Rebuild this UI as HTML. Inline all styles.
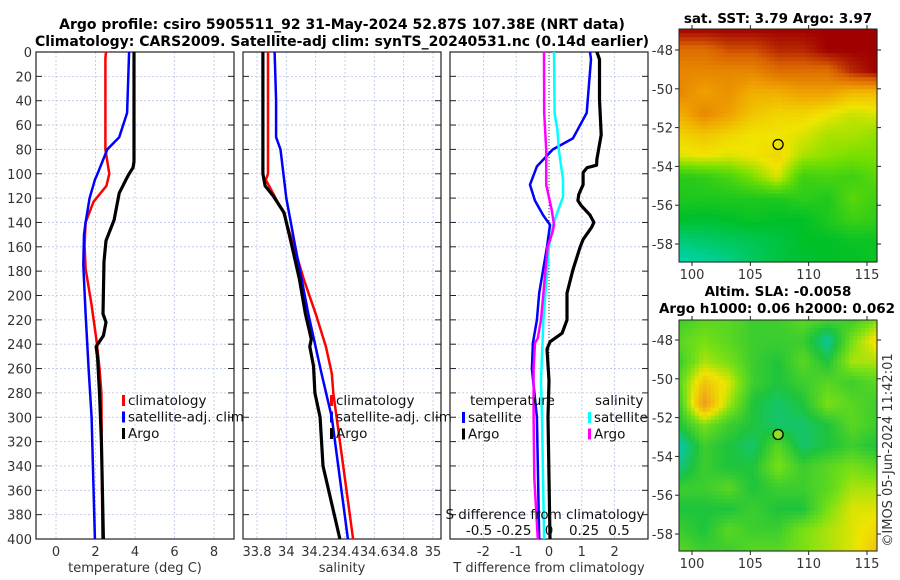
<!DOCTYPE html>
<html><head><meta charset="utf-8"><style>
html,body{margin:0;padding:0;background:#fff;}
svg{display:block;font-family:"DejaVu Sans","Liberation Sans",sans-serif;}
.tk{font-size:13px;fill:#333;}
.tt{font-size:14px;font-weight:bold;fill:#000;}
.tm{font-size:13.5px;font-weight:bold;fill:#000;}
.lg{font-size:13.5px;fill:#111;}
</style></head><body>
<svg id="fig" width="900" height="580" viewBox="0 0 900 580">
<g id="panels"></g>
<text class="tt" x="342" y="29" text-anchor="middle">Argo profile: csiro 5905511_92 31-May-2024 52.87S 107.38E (NRT data)</text>
<text class="tt" x="342" y="46" text-anchor="middle">Climatology: CARS2009. Satellite-adj clim: synTS_20240531.nc (0.14d earlier)</text>
<text class="tm" x="778" y="23" text-anchor="middle">sat. SST: 3.79 Argo: 3.97</text>
<text class="tm" x="778" y="296" text-anchor="middle">Altim. SLA: -0.0058</text>
<text class="tm" x="777" y="313" text-anchor="middle">Argo h1000: 0.06 h2000: 0.062</text>
<text class="tk" transform="translate(892,450) rotate(-90)" text-anchor="middle">©IMOS 05-Jun-2024 11:42:01</text>
</svg>
<script>
// ---------- data ----------
const depthTicks = [0,20,40,60,80,100,120,140,160,180,200,220,240,260,280,300,320,340,360,380,400];
const tempTicks = [0,2,4,6,8];
const salTicks = [33.8,34,34.2,34.4,34.6,34.8,35];
const salTickLabels = ["33.8","34","34.2","34.4","34.6","34.8","35"];
const tdiffTicks = [-2,-1,0,1,2];
const sdiffTicks = [-0.5,-0.25,0,0.25,0.5];
const sdiffTickLabels = ["-0.5","-0.25","0","0.25","0.5"];

const tClimDepth = [0,5,80,100,110,123,140,159,178,208,238,260,280,400];
const tClimVal   = [2.53,2.5,2.5,2.7,2.55,1.9,1.5,1.45,1.5,1.8,2.06,2.2,2.3,2.35];
const tSatDepth  = [0,50,70,80,100,105,120,140,150,175,215,260,300,400];
const tSatVal    = [3.7,3.6,3.2,2.6,2.1,1.97,1.7,1.5,1.42,1.38,1.5,1.65,1.8,1.97];
const tArgoDepth = [0,90,95,100,105,116,138,155,172,215,222,233,242,250,280,320,400];
const tArgoVal   = [3.95,3.95,3.9,3.7,3.54,3.2,2.94,2.53,2.43,2.38,2.53,2.4,2.03,2.1,2.2,2.3,2.4];

const sClimDepth = [0,100,105,132,159,187,215,242,264,280,400];
const sClimVal   = [33.875,33.875,33.86,33.98,34.05,34.12,34.2,34.27,34.31,34.32,34.455];
const sSatDepth  = [0,40,70,80,120,159,215,264,300,400];
const sSatVal    = [33.92,33.93,33.93,33.96,34.0,34.06,34.15,34.24,34.31,34.42];
const sArgoDepth = [0,100,110,118,132,155,187,215,236,242,258,280,300,340,400];
const sArgoVal   = [33.84,33.84,33.855,33.91,33.985,34.03,34.09,34.13,34.17,34.16,34.185,34.195,34.23,34.25,34.365];

const dtSatDepth  = [0,6,50,71,80,94,109,122,134,142,160,179,198,220,239,260,300,400];
const dtSatVal    = [1.25,1.28,1.15,0.73,0.12,-0.37,-0.58,-0.43,-0.18,0.03,-0.06,-0.18,-0.3,-0.37,-0.49,-0.52,-0.37,-0.3];
const dtArgoDepth = [0,6,39,68,88,93,95,99,109,117,122,126,134,140,144,154,160,179,198,220,231,238,244,270,300,400];
const dtArgoVal   = [1.46,1.54,1.54,1.59,1.46,1.45,1.16,1.04,1.04,0.91,0.88,0.98,1.25,1.37,1.3,1.04,0.95,0.73,0.55,0.55,0.4,0.03,-0.06,0.0,-0.03,0.03];
const dsSatDepth  = [0,50,64,80,105,119,130,142,160,220,270,300,400];
const dsSatVal    = [0.036,0.04,0.06,0.07,0.1,0.1,0.065,0.03,0.0,-0.04,-0.057,-0.05,-0.035];
const dsArgoDepth = [0,50,80,109,130,142,148,160,198,220,235,239,260,300,350,400];
const dsArgoVal   = [-0.036,-0.034,-0.02,-0.02,0.02,0.036,0.025,-0.01,-0.04,-0.057,-0.08,-0.1,-0.11,-0.11,-0.105,-0.08];

const sstLonTicks = [100,105,110,115];
const sstLatTicks = [-48,-50,-52,-54,-56,-58];
const sstGrid = [
 [1,1,1,1,1,1,1,1,1],
 [0.85,0.85,0.9,0.9,0.95,0.95,1,1,1],
 [0.8,0.8,0.8,0.8,0.85,0.85,0.85,0.95,1],
 [0.8,0.75,0.78,0.72,0.72,0.75,0.75,0.7,0.7],
 [0.72,0.8,0.75,0.68,0.65,0.65,0.62,0.58,0.6],
 [0.65,0.68,0.65,0.62,0.62,0.6,0.55,0.55,0.52],
 [0.6,0.62,0.6,0.62,0.65,0.55,0.52,0.5,0.5],
 [0.36,0.38,0.42,0.5,0.6,0.4,0.42,0.4,0.45],
 [0.35,0.35,0.35,0.35,0.35,0.38,0.35,0.45,0.4],
 [0.3,0.28,0.3,0.32,0.3,0.3,0.35,0.4,0.38],
 [0.15,0.18,0.2,0.22,0.25,0.3,0.3,0.32,0.32],
 [0.05,0.08,0.12,0.2,0.25,0.28,0.3,0.3,0.32]];
const slaGrid = [
 [0.4,0.45,0.45,0.4,0.4,0.45,0.42,0.4,0.5],
 [0.45,0.5,0.45,0.4,0.4,0.4,0.25,0.5,0.65],
 [0.4,0.55,0.5,0.4,0.35,0.45,0.35,0.55,0.55],
 [0.45,0.7,0.6,0.4,0.35,0.4,0.45,0.4,0.45],
 [0.4,0.8,0.55,0.35,0.3,0.35,0.5,0.45,0.4],
 [0.35,0.5,0.4,0.35,0.3,0.3,0.35,0.45,0.4],
 [0.22,0.4,0.35,0.3,0.45,0.3,0.35,0.4,0.35],
 [0.28,0.4,0.35,0.35,0.5,0.4,0.45,0.5,0.45],
 [0.4,0.4,0.45,0.35,0.4,0.4,0.45,0.55,0.55],
 [0.35,0.35,0.35,0.4,0.35,0.35,0.5,0.6,0.6],
 [0.4,0.35,0.45,0.4,0.4,0.5,0.55,0.6,0.65],
 [0.45,0.4,0.4,0.45,0.45,0.5,0.55,0.6,0.7]];
const argoLon = [107.38];
const argoLat = [-52.87];

// ---------- helpers ----------
const NS="http://www.w3.org/2000/svg";
const root=document.getElementById('panels');
function mk(tag,attrs,parent){const e=document.createElementNS(NS,tag);for(const k in attrs)e.setAttribute(k,attrs[k]);(parent||root).appendChild(e);return e;}
const PT=52,PB=539;
const yD=d=>PT+(d/400)*(PB-PT);
function lin(d0,d1,r0,r1){return v=>r0+(v-d0)/(d1-d0)*(r1-r0);}

function panel(name,x0,x1,xs,xticks,xlabels,showY){
  const g=mk('g',{});
  
  
  xticks.forEach(t=>{const x=xs(t);mk('line',{x1:x,x2:x,y1:PT,y2:PB,stroke:'#b8c4e8','stroke-width':0.8,'stroke-dasharray':'2,2'},g);});
  depthTicks.forEach(d=>{const y=yD(d);mk('line',{x1:x0,x2:x1,y1:y,y2:y,stroke:'#b8c4e8','stroke-width':0.8,'stroke-dasharray':'2,2'},g);
    mk('line',{x1:x0,x2:x0+6,y1:y,y2:y,stroke:'#222','stroke-width':1},g);mk('line',{x1:x1-6,x2:x1,y1:y,y2:y,stroke:'#222','stroke-width':1},g);
    if(showY){const t=mk('text',{x:x0-4,y:y+5,'text-anchor':'end',class:'tk'},g);t.textContent=d;}});
  mk('rect',{x:x0,y:PT,width:x1-x0,height:PB-PT,fill:'none',stroke:'#222','stroke-width':1.2},g);
  if(xlabels){xticks.forEach((t,i)=>{const tx=mk('text',{x:xs(t),y:556,'text-anchor':'middle',class:'tk'},g);tx.textContent=xlabels[i];});}
  return g;
}
function line(g,name,xs,vals,depths,color,w){
  const p=depths.map((d,i)=>(i?'L':'M')+xs(vals[i]).toFixed(1)+','+yD(d).toFixed(1)).join('');
  const e=mk('path',{d:p,fill:'none',stroke:color,'stroke-width':w,'stroke-linejoin':'round'},g);
  
  
}
function legend(g,x,y,items){
  items.forEach((it,i)=>{const yy=y+i*16.5;
    mk('rect',{x:x,y:yy-10,width:3,height:11,fill:it[1]},g);
    const t=mk('text',{x:x+6,y:yy,class:'lg'},g);t.textContent=it[0];
    
    });
}

// Panel 1 temperature
const xT=lin(0,8,56,214);
const g1=panel('temperature-panel',36,234,xT,tempTicks,tempTicks.map(String),true);
line(g1,'temp-climatology-line',xT,tClimVal,tClimDepth,'#f00',2.5);
line(g1,'temp-satellite-line',xT,tSatVal,tSatDepth,'#00f',2.5);
line(g1,'temp-argo-line',xT,tArgoVal,tArgoDepth,'#000',3.2);
legend(g1,122,405,[['climatology','#f00'],['satellite-adj. clim','#00f'],['Argo','#000']]);
let t=mk('text',{x:135,y:572,'text-anchor':'middle',class:'tk'},g1);t.textContent='temperature (deg C)';

// Panel 2 salinity
const xS=lin(33.8,35,257,433);
const g2=panel('salinity-panel',243,441,xS,salTicks,salTickLabels,false);
line(g2,'sal-climatology-line',xS,sClimVal,sClimDepth,'#f00',2.5);
line(g2,'sal-satellite-line',xS,sSatVal,sSatDepth,'#00f',2.5);
line(g2,'sal-argo-line',xS,sArgoVal,sArgoDepth,'#000',3.2);
legend(g2,330,405,[['climatology','#f00'],['satellite-adj. clim','#00f'],['Argo','#000']]);
t=mk('text',{x:342,y:572,'text-anchor':'middle',class:'tk'},g2);t.textContent='salinity';

// Panel 3 differences
const xDT=lin(0,2,549,614.6);
const xDS=lin(0,0.5,549,619);
const g3=panel('difference-panel',450,648,xDT,tdiffTicks,tdiffTicks.map(String),false);
mk('line',{x1:549,x2:549,y1:PT,y2:PB,stroke:'#444','stroke-width':1,'stroke-dasharray':'1,2'},g3);
line(g3,'tdiff-satellite-line',xDT,dtSatVal,dtSatDepth,'#00f',2.5);
line(g3,'tdiff-argo-line',xDT,dtArgoVal,dtArgoDepth,'#000',3.2);
line(g3,'sdiff-satellite-line',xDS,dsSatVal,dsSatDepth,'#0ff',2.5);
line(g3,'sdiff-argo-line',xDS,dsArgoVal,dsArgoDepth,'#f0f',2.5);
t=mk('text',{x:470,y:405,class:'lg'},g3);t.textContent='temperature';
legend(g3,462,422,[['satellite','#00f'],['Argo','#000']]);
t=mk('text',{x:595,y:405,class:'lg'},g3);t.textContent='salinity';
legend(g3,588,422,[['satellite','#0ff'],['Argo','#f0f']]);
t=mk('text',{x:545,y:519,'text-anchor':'middle',class:'lg'},g3);t.textContent='S difference from climatology';
sdiffTicks.forEach((v,i)=>{const tx=mk('text',{x:xDS(v),y:535,'text-anchor':'middle',class:'lg'},g3);tx.textContent=sdiffTickLabels[i];});
t=mk('text',{x:549,y:572,'text-anchor':'middle',class:'tk'},g3);t.textContent='T difference from climatology';

// Maps
const stops=[[0,[0,216,200]],[0.3,[0,192,40]],[0.5,[120,224,0]],[0.62,[240,228,0]],[0.75,[240,160,0]],[0.88,[216,96,0]],[1,[160,0,0]]];
const slaStops=[[0,[0,120,230]],[0.2,[0,200,200]],[0.35,[30,196,60]],[0.5,[120,224,20]],[0.62,[240,228,0]],[0.8,[240,150,30]],[1,[220,80,0]]];
function cmap(v,st){v=Math.max(0,Math.min(1,v));for(let i=1;i<st.length;i++){if(v<=st[i][0]){const a=st[i-1],b=st[i],f=(v-a[0])/(b[0]-a[0]);return 'rgb('+a[1].map((c,k)=>Math.round(c+(b[1][k]-c)*f)).join(',')+')';}}return 'rgb(160,0,0)';}
function map(name,x0,y0,w,h,grid,st,latTop,circleFill){
  const g=mk('g',{});
  
  
  const R=grid.length,C=grid[0].length,NX=50,NY=58;
  const cw=w/NX,ch=h/NY;
  for(let j=0;j<NY;j++)for(let i=0;i<NX;i++){
    const gy=(j+0.5)/NY*(R-1),gx=(i+0.5)/NX*(C-1);
    const r0=Math.floor(gy),c0=Math.floor(gx),r1=Math.min(R-1,r0+1),c1=Math.min(C-1,c0+1),fy=gy-r0,fx=gx-c0;
    const v=grid[r0][c0]*(1-fx)*(1-fy)+grid[r0][c1]*fx*(1-fy)+grid[r1][c0]*(1-fx)*fy+grid[r1][c1]*fx*fy;
    mk('rect',{x:(x0+i*cw).toFixed(2),y:(y0+j*ch).toFixed(2),width:(cw+0.6).toFixed(2),height:(ch+0.6).toFixed(2),fill:cmap(v,st)},g);
  }
  const xl=lin(100,115,692,867), yl=lin(-48,-58,latTop,latTop+194);
  mk('rect',{x:x0,y:y0,width:w,height:h,fill:'none',stroke:'#222','stroke-width':1},g);
  sstLonTicks.forEach(v=>{const x=xl(v);mk('line',{x1:x,x2:x,y1:y0+h,y2:y0+h+4,stroke:'#222'},g);mk('line',{x1:x,x2:x,y1:y0,y2:y0-4,stroke:'#222'},g);
    const tx=mk('text',{x:x,y:y0+h+17,'text-anchor':'middle',class:'tk'},g);tx.textContent=v;});
  sstLatTicks.forEach(v=>{const y=yl(v);mk('line',{x1:x0-4,x2:x0,y1:y,y2:y,stroke:'#222'},g);mk('line',{x1:x0+w,x2:x0+w+4,y1:y,y2:y,stroke:'#222'},g);
    const tx=mk('text',{x:x0-6,y:y+5,'text-anchor':'end',class:'tk'},g);tx.textContent=v;});
  const c=mk('circle',{cx:xl(argoLon[0]),cy:yl(argoLat[0]),r:5,fill:circleFill,stroke:'#000','stroke-width':1.3},g);
  
  
}
map('sst-map',679,29,198,233,sstGrid,stops,50,'#f0e000');
map('sla-map',679,320,198,231,slaGrid,slaStops,340,'#90e020');
</script>
</body></html>
